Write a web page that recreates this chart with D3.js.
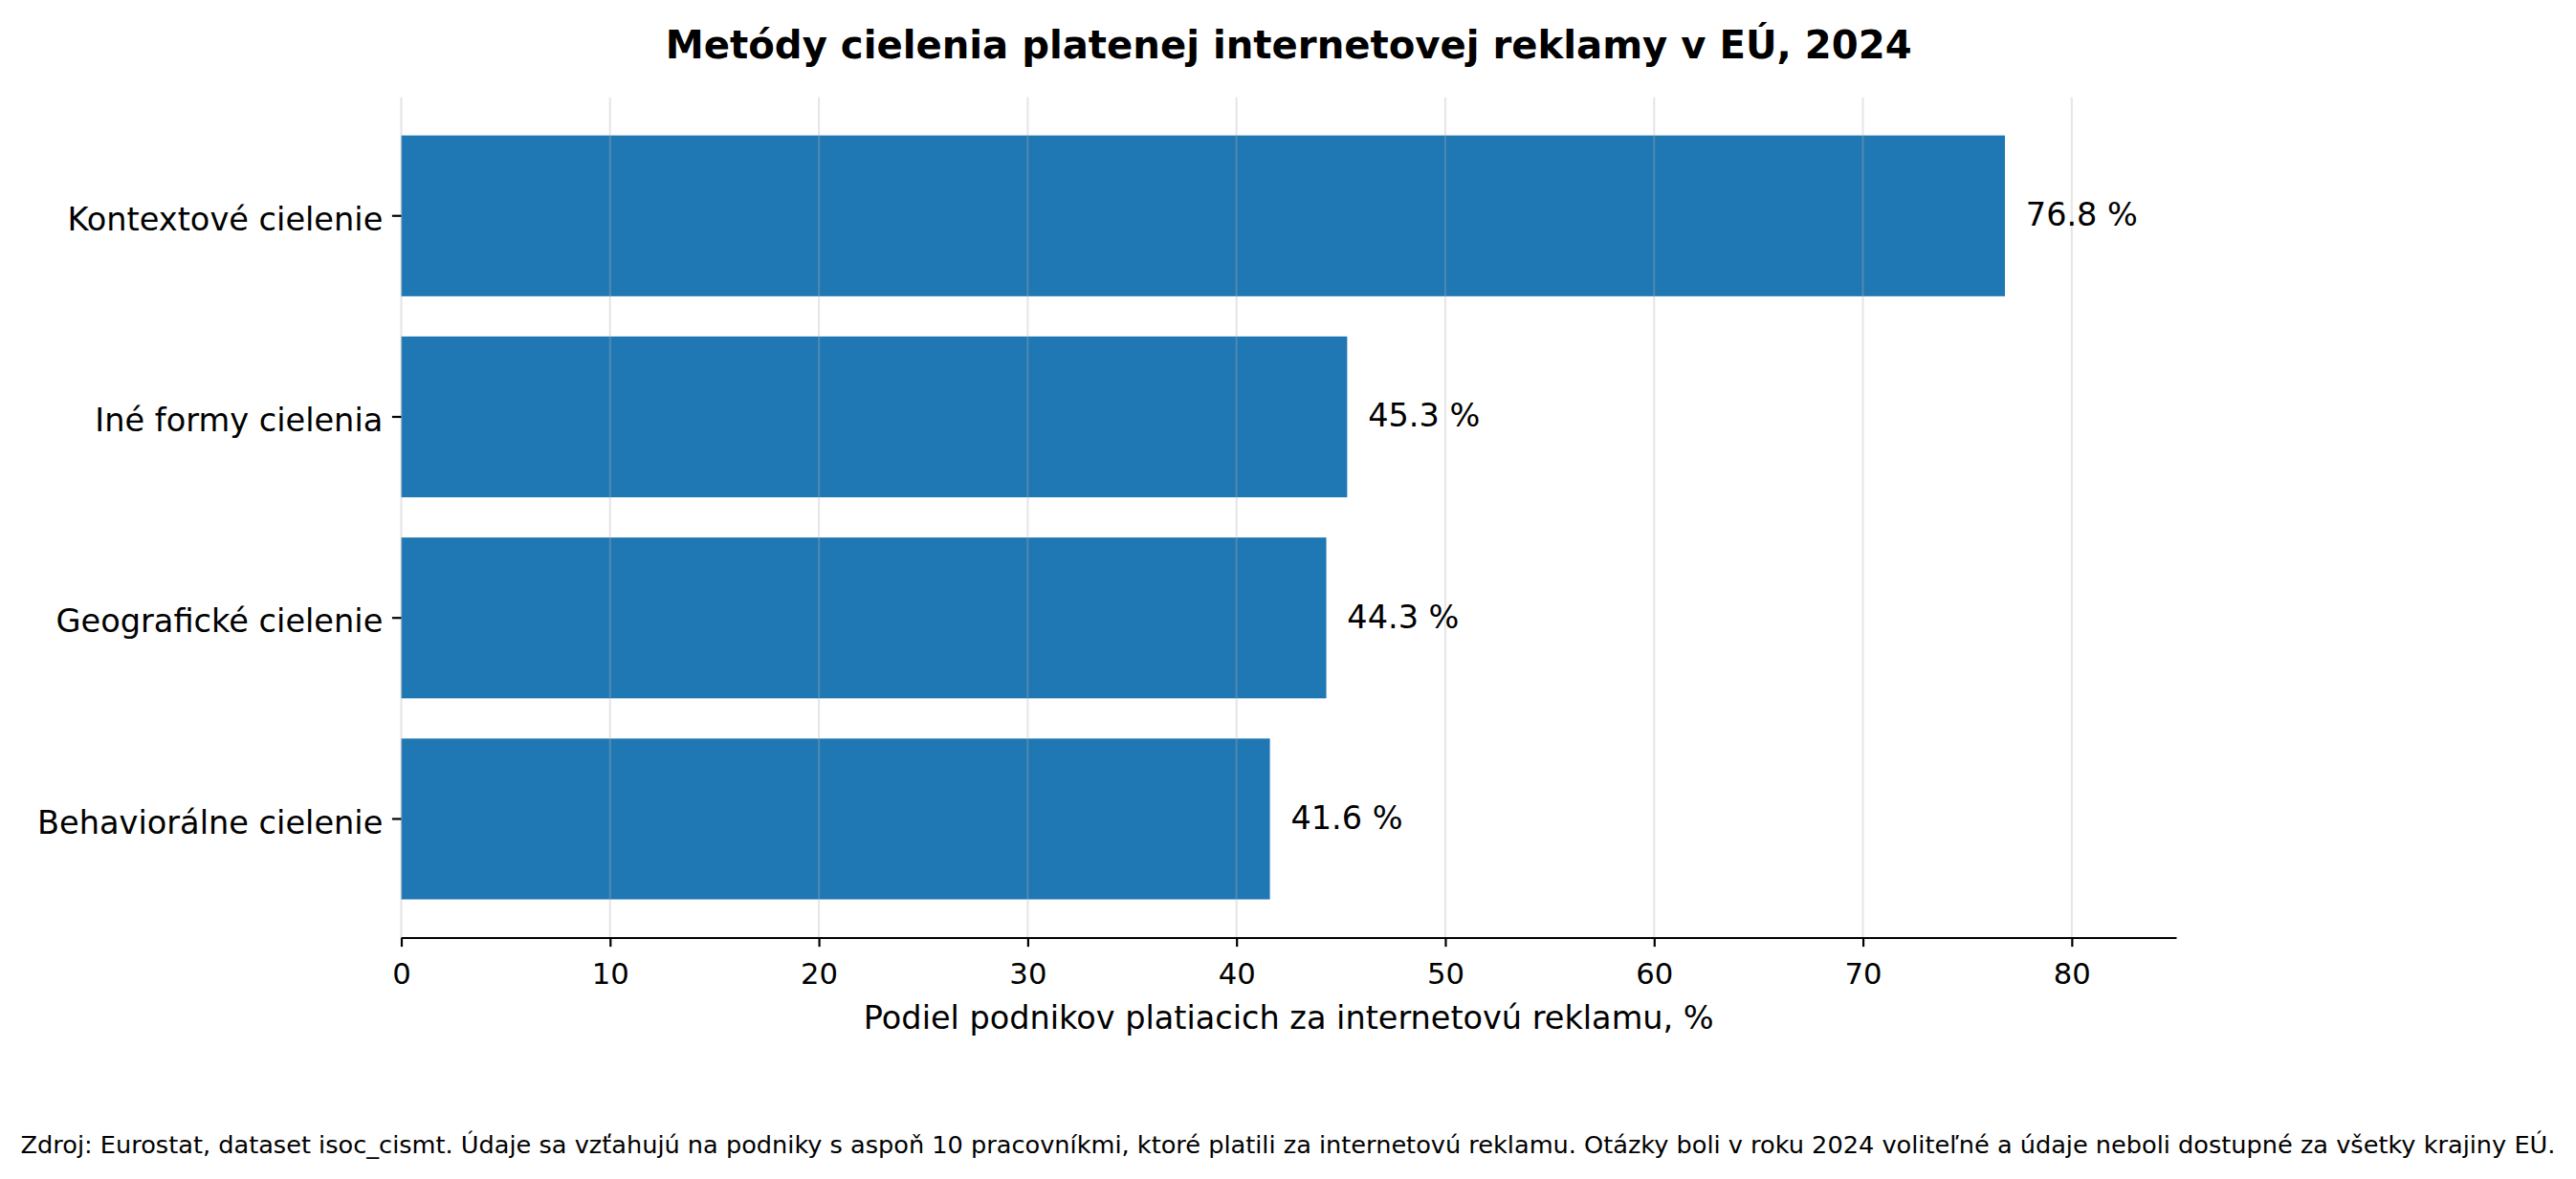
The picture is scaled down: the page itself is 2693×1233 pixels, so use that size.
<!DOCTYPE html>
<html>
<head>
<meta charset="utf-8">
<script src="https://cdn.jsdelivr.net/npm/d3@7"></script>
<style>
  body { margin: 0; background: #fff; }
  svg { display: block; font-family: "DejaVu Sans", sans-serif; }
</style>
</head>
<body>
<div id="chart"></div>
<script>
// data
var categories = ["Kontextové cielenie", "Iné formy cielenia", "Geografické cielenie", "Behaviorálne cielenie"];
var values = [76.8, 45.3, 44.3, 41.6];
var xTicks = [0, 10, 20, 30, 40, 50, 60, 70, 80];

var titleText = "Metódy cielenia platenej internetovej reklamy v EÚ, 2024";
var xLabelText = "Podiel podnikov platiacich za internetovú reklamu, %";
var noteText = "Zdroj: Eurostat, dataset isoc_cismt. Údaje sa vzťahujú na podniky s aspoň 10 pracovníkmi, ktoré platili za internetovú reklamu. Otázky boli v roku 2024 voliteľné a údaje neboli dostupné za všetky krajiny EÚ.";

var W = 2693, H = 1233;
var margin = {top: 101.7, right: 2693 - 2275, bottom: 1233 - 980.5, left: 419.5};
var width = W - margin.left - margin.right,
    height = H - margin.top - margin.bottom;

var data = categories.map(function(c, i) { return {cat: c, val: values[i]}; });

var svg = d3.select("#chart").append("svg")
    .attr("width", W)
    .attr("height", H);

var g = svg.append("g")
    .attr("transform", "translate(" + margin.left + "," + margin.top + ")");

// scales
var x = d3.scaleLinear().domain([0, 85]).range([0, width]);
var y = d3.scaleBand().domain(categories).range([0, height])
    .paddingInner(0.2).paddingOuter(0.19);

// bars
g.selectAll(".bar")
    .data(data)
  .enter().append("rect")
    .attr("class", "bar")
    .attr("x", x(0))
    .attr("y", function(d) { return y(d.cat); })
    .attr("width", function(d) { return x(d.val) - x(0); })
    .attr("height", y.bandwidth())
    .style("fill", "#1f77b4");

// vertical grid, above the bars like matplotlib
g.selectAll(".grid")
    .data(xTicks)
  .enter().append("line")
    .attr("class", "grid")
    .attr("x1", function(d) { return x(d); })
    .attr("x2", function(d) { return x(d); })
    .attr("y1", 0)
    .attr("y2", height)
    .style("stroke", "#b0b0b0")
    .style("stroke-opacity", 0.3)
    .style("stroke-width", 2.2);

// x axis
var xAxis = g.append("g")
    .attr("transform", "translate(0," + height + ")")
    .call(d3.axisBottom(x).tickValues(xTicks).tickSize(9.6).tickSizeOuter(0).tickPadding(17));
xAxis.select(".domain").style("stroke", "#000").style("stroke-width", 2.2);
xAxis.selectAll(".tick line").style("stroke", "#000").style("stroke-width", 2.2);
xAxis.selectAll(".tick text")
    .style("font-family", "DejaVu Sans")
    .style("font-size", "30.7px")
    .style("fill", "#000");

// y axis, no spine
var yAxis = g.append("g")
    .call(d3.axisLeft(y).tickSize(9.6).tickPadding(9.6));
yAxis.select(".domain").remove();
yAxis.selectAll(".tick line").style("stroke", "#000").style("stroke-width", 2.2);
yAxis.selectAll(".tick text")
    .attr("dy", "0.45em")
    .style("font-family", "DejaVu Sans")
    .style("font-size", "33.6px")
    .style("fill", "#000");

// value labels
g.selectAll(".val")
    .data(data)
  .enter().append("text")
    .attr("class", "val")
    .attr("x", function(d) { return x(d.val + 1); })
    .attr("y", function(d) { return y(d.cat) + y.bandwidth() / 2; })
    .attr("dy", "0.31em")
    .style("font-size", "33.5px")
    .style("fill", "#000")
    .text(function(d) { return d.val.toFixed(1) + " %"; });

// x label
g.append("text")
    .attr("x", width / 2)
    .attr("y", 1076 - margin.top)
    .style("text-anchor", "middle")
    .style("font-size", "33.5px")
    .text(xLabelText);

// title
svg.append("text")
    .attr("x", margin.left + width / 2)
    .attr("y", 61)
    .style("text-anchor", "middle")
    .style("font-weight", "bold")
    .style("font-size", "40.2px")
    .text(titleText);

// source note
svg.append("text")
    .attr("x", W / 2)
    .attr("y", 1206)
    .style("text-anchor", "middle")
    .style("font-size", "25.6px")
    .text(noteText);
</script>
</body>
</html>
